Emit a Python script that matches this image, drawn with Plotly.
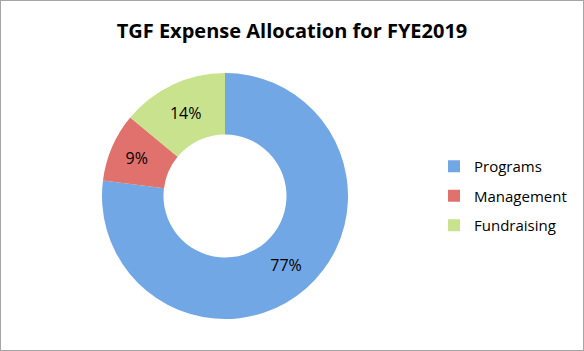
import plotly.graph_objects as go

categories = ["Programs", "Management", "Fundraising"]
values = [77, 9, 14]
colors = ["#72A7E6", "#E0716D", "#C8E28D"]

W, H = 584, 351
cx, cy, r = 225, 196, 123

fig = go.Figure(go.Pie(
    labels=categories,
    values=values,
    hole=0.5,
    sort=False,
    direction="clockwise",
    rotation=0,
    marker=dict(colors=colors, line=dict(color="white", width=0)),
    textinfo="percent",
    texttemplate="%{percent:.0%}",
    textposition="inside",
    insidetextorientation="horizontal",
    textfont=dict(family="Open Sans, sans-serif", size=16, color="#000000"),
    domain=dict(x=[(cx - r) / W, (cx + r) / W], y=[(H - cy - r) / H, (H - cy + r) / H]),
    showlegend=False,
))

# legend entries (square markers) with spacing between groups
for name, col in zip(categories, colors):
    fig.add_trace(go.Scatter(
        x=[None], y=[None], mode="markers", name=name, legendgroup=name,
        marker=dict(symbol="square", size=9, color=col),
        showlegend=True, hoverinfo="skip",
    ))

fig.update_layout(
    width=W, height=H,
    margin=dict(l=0, r=0, t=0, b=0),
    paper_bgcolor="white",
    plot_bgcolor="white",
    xaxis=dict(visible=False),
    yaxis=dict(visible=False),
    title=dict(text="<b>TGF Expense Allocation for FYE2019</b>",
               x=0.5, xanchor="center", y=1 - 31 / H, yanchor="middle",
               font=dict(family="Open Sans, sans-serif", size=20, color="#000000")),
    legend=dict(x=434 / W, y=1 - 150 / H, xanchor="left", yanchor="top",
                font=dict(family="Open Sans, sans-serif", size=15, color="#000000"),
                tracegroupgap=7, itemsizing="constant", bgcolor="rgba(0,0,0,0)"),
    shapes=[dict(type="rect", xref="paper", yref="paper", x0=0, y0=0, x1=1, y1=1,
                 line=dict(color="#A6A6A6", width=2))],
)

fig.write_html("out.html")
